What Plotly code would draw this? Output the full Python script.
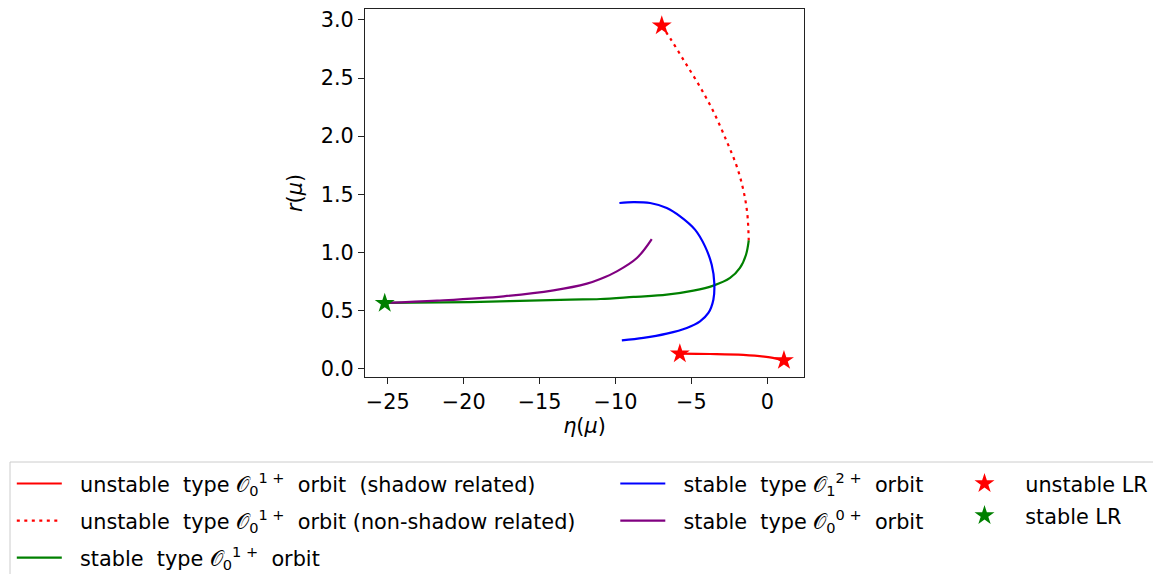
import plotly.graph_objects as go

# --- data -------------------------------------------------------------
# unstable O_0^{1+} branch (shadow related)
eta_unst_sh = [-5.76, -3.77, -1.58, 0.18, 1.10]
r_unst_sh = [0.129, 0.126, 0.118, 0.097, 0.071]

# unstable O_0^{1+} branch (non-shadow related)
eta_unst_ns = [-6.95, -6.36, -5.48, -4.47, -3.55, -2.67, -2.01, -1.58, -1.32, -1.22]
r_unst_ns = [2.95, 2.835, 2.648, 2.433, 2.212, 1.955, 1.740, 1.539, 1.339, 1.103]

# stable O_0^{1+} branch
eta_st01 = [-25.16, -19.56, -12.98, -11.0, -8.81, -6.62, -4.87, -3.55, -2.45, -1.80, -1.40, -1.22]
r_st01 = [0.565, 0.573, 0.593, 0.599, 0.617, 0.636, 0.671, 0.714, 0.780, 0.866, 0.980, 1.103]

# stable O_1^{2+} branch
eta_st12 = [-9.74, -8.82, -7.72, -6.62, -5.74, -4.76, -4.10, -3.66, -3.49, -3.55,
            -3.88, -4.43, -5.30, -6.62, -8.16, -9.58]
r_st12 = [1.425, 1.433, 1.425, 1.382, 1.310, 1.196, 1.052, 0.894, 0.737, 0.593,
          0.479, 0.407, 0.350, 0.301, 0.264, 0.243]

# stable O_0^{0+} branch
eta_st00 = [-25.16, -21.75, -17.37, -14.08, -11.88, -11.0, -9.91, -8.59, -7.61]
r_st00 = [0.565, 0.585, 0.622, 0.673, 0.731, 0.771, 0.837, 0.952, 1.115]

# light rings
eta_lr_unstable = [-6.95, -5.76, 1.10]
r_lr_unstable = [2.95, 0.129, 0.071]
eta_lr_stable = [-25.2]
r_lr_stable = [0.563]

x_ticks = [-25, -20, -15, -10, -5, 0]
y_ticks = [0.0, 0.5, 1.0, 1.5, 2.0, 2.5, 3.0]

O = "𝒪"
FONT = "DejaVu Sans"
FS = 20.8
LW = 2.2
GAP = "  "  # space between legend handle and label

fig = go.Figure()

fig.add_trace(go.Scatter(
    x=eta_unst_sh, y=r_unst_sh, mode="lines",
    line=dict(color="red", width=LW, shape="spline"),
    name=f"{GAP}unstable  type {O}<sub>0</sub><sup>1 +</sup>  orbit  (shadow related)",
    legend="legend"))
fig.add_trace(go.Scatter(
    x=eta_unst_ns, y=r_unst_ns, mode="lines",
    line=dict(color="red", width=LW, dash="3px,4.5px", shape="spline"),
    name=f"{GAP}unstable  type {O}<sub>0</sub><sup>1 +</sup>  orbit (non-shadow related)",
    legend="legend"))
fig.add_trace(go.Scatter(
    x=eta_st01, y=r_st01, mode="lines",
    line=dict(color="green", width=LW, shape="spline"),
    name=f"{GAP}stable  type {O}<sub>0</sub><sup>1 +</sup>  orbit",
    legend="legend"))
fig.add_trace(go.Scatter(
    x=eta_st12, y=r_st12, mode="lines",
    line=dict(color="blue", width=LW, shape="spline"),
    name=f"{GAP}stable  type {O}<sub>1</sub><sup>2 +</sup>  orbit",
    legend="legend2"))
fig.add_trace(go.Scatter(
    x=eta_st00, y=r_st00, mode="lines",
    line=dict(color="purple", width=LW, shape="spline"),
    name=f"{GAP}stable  type {O}<sub>0</sub><sup>0 +</sup>  orbit",
    legend="legend2"))
fig.add_trace(go.Scatter(
    x=eta_lr_unstable, y=r_lr_unstable, mode="markers",
    marker=dict(symbol="star", color="red", size=15, line=dict(width=0)),
    name=f"{GAP}unstable LR", legend="legend3"))
fig.add_trace(go.Scatter(
    x=eta_lr_stable, y=r_lr_stable, mode="markers",
    marker=dict(symbol="star", color="green", size=15, line=dict(width=0)),
    name=f"{GAP}stable LR", legend="legend3"))

for i, tr in enumerate(fig.data):
    tr.legendgroup = f"g{i}"

legend_common = dict(
    xanchor="left", yanchor="top", bgcolor="rgba(0,0,0,0)", borderwidth=0,
    font=dict(family=FONT, size=FS, color="black"), orientation="v", itemwidth=45,
)

axis_common = dict(
    showline=True, linecolor="#222", linewidth=1, mirror=True,
    ticks="outside", ticklen=6, tickwidth=1, tickcolor="#222",
    showgrid=False, zeroline=False,
    tickfont=dict(family=FONT, size=FS, color="black"),
)

# plot area in pixels: x 365..804, y 9..377
PL, PW, PT, PH = 365, 439, 9, 368


def px_x(p):
    return (p - PL) / PW


def px_y(p):
    return (PT + PH - p) / PH


fig.update_layout(
    width=1153, height=574,
    margin=dict(l=PL, r=1153 - PL - PW, t=PT, b=574 - PT - PH, autoexpand=False),
    paper_bgcolor="white", plot_bgcolor="white",
    font=dict(family=FONT, color="black"),
    xaxis=dict(range=[-26.5, 2.42], tickvals=x_ticks,
               title=dict(text="<i>η</i>(<i>μ</i>)", font=dict(family=FONT, size=FS), standoff=4),
               **axis_common),
    yaxis=dict(range=[-0.072, 3.094], tickvals=y_ticks, tickformat=".1f",
               title=dict(text="<i>r</i>(<i>μ</i>)", font=dict(family=FONT, size=FS), standoff=12),
               **axis_common),
    legend=dict(x=px_x(11.8), y=px_y(463.5), tracegroupgap=7, **legend_common),
    legend2=dict(x=px_x(615.3), y=px_y(463.5), tracegroupgap=7, **legend_common),
    legend3=dict(x=px_x(957), y=px_y(463.5), tracegroupgap=2, **legend_common),
    shapes=[dict(type="rect", xref="paper", yref="paper",
                 x0=px_x(10), x1=px_x(1170), y0=px_y(590), y1=px_y(462),
                 line=dict(color="#cccccc", width=1), fillcolor="rgba(0,0,0,0)",
                 layer="below")],
    showlegend=True,
)

fig.write_html("out.html")
